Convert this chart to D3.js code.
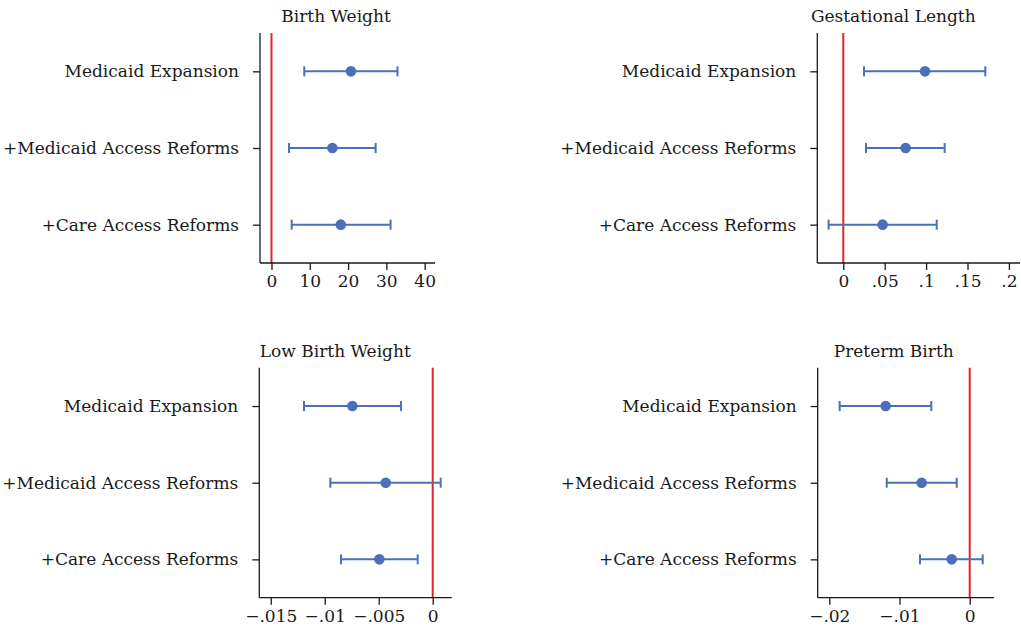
<!DOCTYPE html>
<html>
<head>
<meta charset="utf-8">
<script src="https://cdn.jsdelivr.net/npm/d3@7"></script>
<style>
  html, body { margin: 0; padding: 0; background: #fff; }
  svg { display: block; }
  text { font-family: "DejaVu Serif", serif; fill: #1a1a1a; }
</style>
</head>
<body>
<svg id="chart" width="1021" height="631"></svg>
<script>
// Model specifications (rows of every panel)
const categories = ["Medicaid Expansion", "+Medicaid Access Reforms", "+Care Access Reforms"];

// Panel titles
const outcomes = ["Birth Weight", "Gestational Length", "Low Birth Weight", "Preterm Birth"];

// Point estimates and 95% confidence bounds, one array per outcome
const birthWeightEst = [20.75, 15.9, 18.1];
const birthWeightLo  = [8.56, 4.57, 5.27];
const birthWeightHi  = [32.9, 27.2, 31.1];

const gestLengthEst = [0.0987, 0.0753, 0.0475];
const gestLengthLo  = [0.025, 0.0274, -0.0177];
const gestLengthHi  = [0.1715, 0.1224, 0.1128];

const lowBwEst = [-0.00744, -0.00435, -0.00494];
const lowBwLo  = [-0.01192, -0.00948, -0.00849];
const lowBwHi  = [-0.00294, 0.00074, -0.00139];

const pretermEst = [-0.01197, -0.00684, -0.00256];
const pretermLo  = [-0.01852, -0.01182, -0.00708];
const pretermHi  = [-0.00547, -0.00185, 0.00185];

// Axis tick values
const birthWeightTicks = [0, 10, 20, 30, 40];
const gestLengthTicks  = [0, 0.05, 0.1, 0.15, 0.2];
const lowBwTicks       = [-0.015, -0.01, -0.005, 0];
const pretermTicks     = [-0.02, -0.01, 0];

const BLUE = "#4a70bb";
const RED = "#e3232c";
const INK = "#1a1a1a";
const FONT = "17px";

const panels = [
  { title: outcomes[0], est: birthWeightEst, lo: birthWeightLo, hi: birthWeightHi, ticks: birthWeightTicks,
    domain: [-3, 42.7], left: 260, right: 435, top: 33, bottom: 263 },
  { title: outcomes[1], est: gestLengthEst, lo: gestLengthLo, hi: gestLengthHi, ticks: gestLengthTicks,
    domain: [-0.0314, 0.2134], left: 817.3, right: 1020, top: 33, bottom: 263 },
  { title: outcomes[2], est: lowBwEst, lo: lowBwLo, hi: lowBwHi, ticks: lowBwTicks,
    domain: [-0.01606, 0.00176], left: 259.3, right: 451.7, top: 367.7, bottom: 597.7 },
  { title: outcomes[3], est: pretermEst, lo: pretermLo, hi: pretermHi, ticks: pretermTicks,
    domain: [-0.02165, 0.00346], left: 817.7, right: 994, top: 367.7, bottom: 597.7 }
];

// Stata-style numbers: no leading zero, true minus sign
const fmt = d => {
  if (d === 0) return "0";
  const s = String(+Math.abs(d).toFixed(6)).replace(/^0/, "");
  return (d < 0 ? "\u2212" : "") + s;
};

const svg = d3.select("#chart");

panels.forEach(p => {
  const g = svg.append("g");
  const x = d3.scaleLinear().domain(p.domain).range([p.left, p.right]);
  const y = d3.scalePoint().domain(categories).range([p.top, p.bottom]).padding(0.5);

  // title
  g.append("text")
    .attr("x", p.left + 76)
    .attr("y", p.top - 11)
    .attr("text-anchor", "middle")
    .style("font-size", FONT)
    .text(p.title);

  // zero reference line
  g.append("line")
    .attr("x1", x(0)).attr("x2", x(0))
    .attr("y1", p.top).attr("y2", p.bottom)
    .attr("stroke", RED).attr("stroke-width", 2);

  // y axis
  const ya = g.append("g")
    .attr("transform", `translate(${p.left},0)`)
    .call(d3.axisLeft(y).tickSize(7).tickPadding(14));
  ya.select(".domain").attr("stroke", INK).attr("stroke-width", 1.3)
    .attr("d", `M0,${p.top}V${p.bottom}`);
  ya.selectAll(".tick line").attr("stroke", INK).attr("stroke-width", 1.3);
  ya.selectAll(".tick text").style("font-size", FONT).attr("fill", INK);

  // x axis
  const xa = g.append("g")
    .attr("transform", `translate(0,${p.bottom})`)
    .call(d3.axisBottom(x).tickValues(p.ticks).tickFormat(fmt).tickSize(7).tickPadding(5));
  xa.select(".domain").attr("stroke", INK).attr("stroke-width", 1.3)
    .attr("d", `M${p.left},0H${p.right}`);
  xa.selectAll(".tick line").attr("stroke", INK).attr("stroke-width", 1.3);
  xa.selectAll(".tick text").style("font-size", FONT).attr("fill", INK);

  // confidence intervals
  const rows = categories.map((c, i) => ({ c, est: p.est[i], lo: p.lo[i], hi: p.hi[i] }));
  const ci = g.append("g").selectAll("g").data(rows).join("g")
    .attr("stroke", BLUE).attr("stroke-width", 2);
  ci.append("line")
    .attr("x1", d => x(d.lo)).attr("x2", d => x(d.hi))
    .attr("y1", d => y(d.c)).attr("y2", d => y(d.c));
  ci.append("line")
    .attr("x1", d => x(d.lo)).attr("x2", d => x(d.lo))
    .attr("y1", d => y(d.c) - 5).attr("y2", d => y(d.c) + 5);
  ci.append("line")
    .attr("x1", d => x(d.hi)).attr("x2", d => x(d.hi))
    .attr("y1", d => y(d.c) - 5).attr("y2", d => y(d.c) + 5);

  // point estimates
  g.append("g").selectAll("circle").data(rows).join("circle")
    .attr("cx", d => x(d.est)).attr("cy", d => y(d.c))
    .attr("r", 5.3).attr("fill", BLUE);
});
</script>
</body>
</html>
